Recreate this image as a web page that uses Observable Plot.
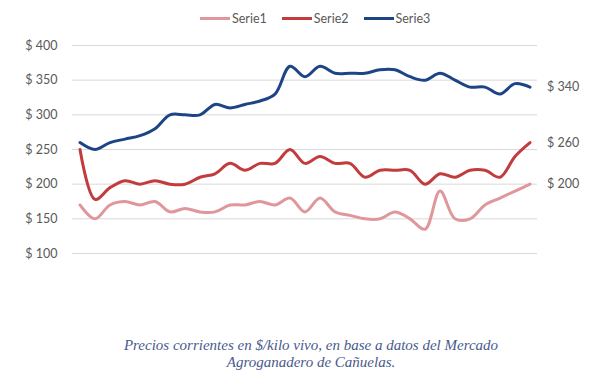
<!DOCTYPE html>
<html><head><meta charset="utf-8">
<script src="https://cdn.jsdelivr.net/npm/d3@7"></script>
<script src="https://cdn.jsdelivr.net/npm/@observablehq/plot@0.6"></script>
<style>
body{margin:0;width:600px;height:376px;position:relative;background:#fff;font-family:Lato,"Open Sans",sans-serif;overflow:hidden}
#chart{position:absolute;top:0;left:0}
#legend{position:absolute;top:11px;left:200px;display:flex;align-items:center;font-size:12.5px;color:#595959;gap:15px}
#legend .item{display:flex;align-items:center;gap:2px}
#legend .sw{display:inline-block;width:30px;height:3px}
#caption{position:absolute;top:337px;left:0;width:622px;text-align:center;font-family:"Liberation Serif",serif;font-style:italic;font-size:15px;color:#485a8c;line-height:16.5px}
</style></head>
<body>
<div id="chart"></div>
<div id="legend"></div>
<div id="caption">Precios corrientes en $/kilo vivo, en base a datos del Mercado<br>Agroganadero de Cañuelas.</div>
<script>
const periods = d3.range(31);
const seriesNames = ["Serie1", "Serie2", "Serie3"];
const seriesColors = ["#e0979b", "#c23b3d", "#1d4586"];
const serie1 = [170,150,170,175,170,175,160,165,160,160,170,170,175,170,180,160,180,160,155,150,150,160,150,135,190,150,150,170,180,190,200];
const serie2 = [250,178,195,205,200,205,200,200,210,215,230,220,230,230,250,230,240,230,230,210,220,220,220,200,215,210,220,220,210,240,260];
const serie3 = [260,250,260,265,270,280,300,300,300,315,310,315,320,330,370,355,370,360,360,360,365,365,355,350,360,350,340,340,330,345,340];
const yTicks = [100,150,200,250,300,350,400];

const allSeries = [serie1, serie2, serie3];
const data = allSeries.flatMap((vals, k) => vals.map((v, i) => ({i: periods[i], v, s: seriesNames[k]})));
const last = allSeries.map((vals, k) => ({i: periods[vals.length - 1], v: vals[vals.length - 1], s: seriesNames[k]}));
const fmt = d => "$ " + d;

const chart = Plot.plot({
  width: 600, height: 300,
  marginTop: 45, marginBottom: 47, marginLeft: 72, marginRight: 63,
  x: {domain: [-0.5, 30.5], axis: null},
  y: {domain: [100, 400], axis: null},
  color: {domain: seriesNames, range: seriesColors},
  style: {fontFamily: "Lato, 'Open Sans', sans-serif", fontSize: "12.5px", color: "#595959", background: "transparent"},
  marks: [
    Plot.ruleY(yTicks, {stroke: "#d9d9d9", strokeWidth: 1}),
    Plot.axisY({ticks: yTicks, tickFormat: fmt, tickSize: 0, tickPadding: 15, label: null, fill: "#595959"}),
    Plot.line(data, {x: "i", y: "v", z: "s", stroke: "s", strokeWidth: 3, curve: "catmull-rom", strokeLinecap: "round"}),
    Plot.text(last, {x: "i", y: "v", text: d => fmt(d.v), dx: 17, textAnchor: "start", fill: "#595959"})
  ]
});
document.getElementById("chart").appendChild(chart);

const legend = document.getElementById("legend");
seriesNames.forEach((n, k) => {
  const it = document.createElement("div");
  it.className = "item";
  it.innerHTML = `<span class="sw" style="background:${seriesColors[k]}"></span><span>${n}</span>`;
  legend.appendChild(it);
});
</script>
</body></html>
